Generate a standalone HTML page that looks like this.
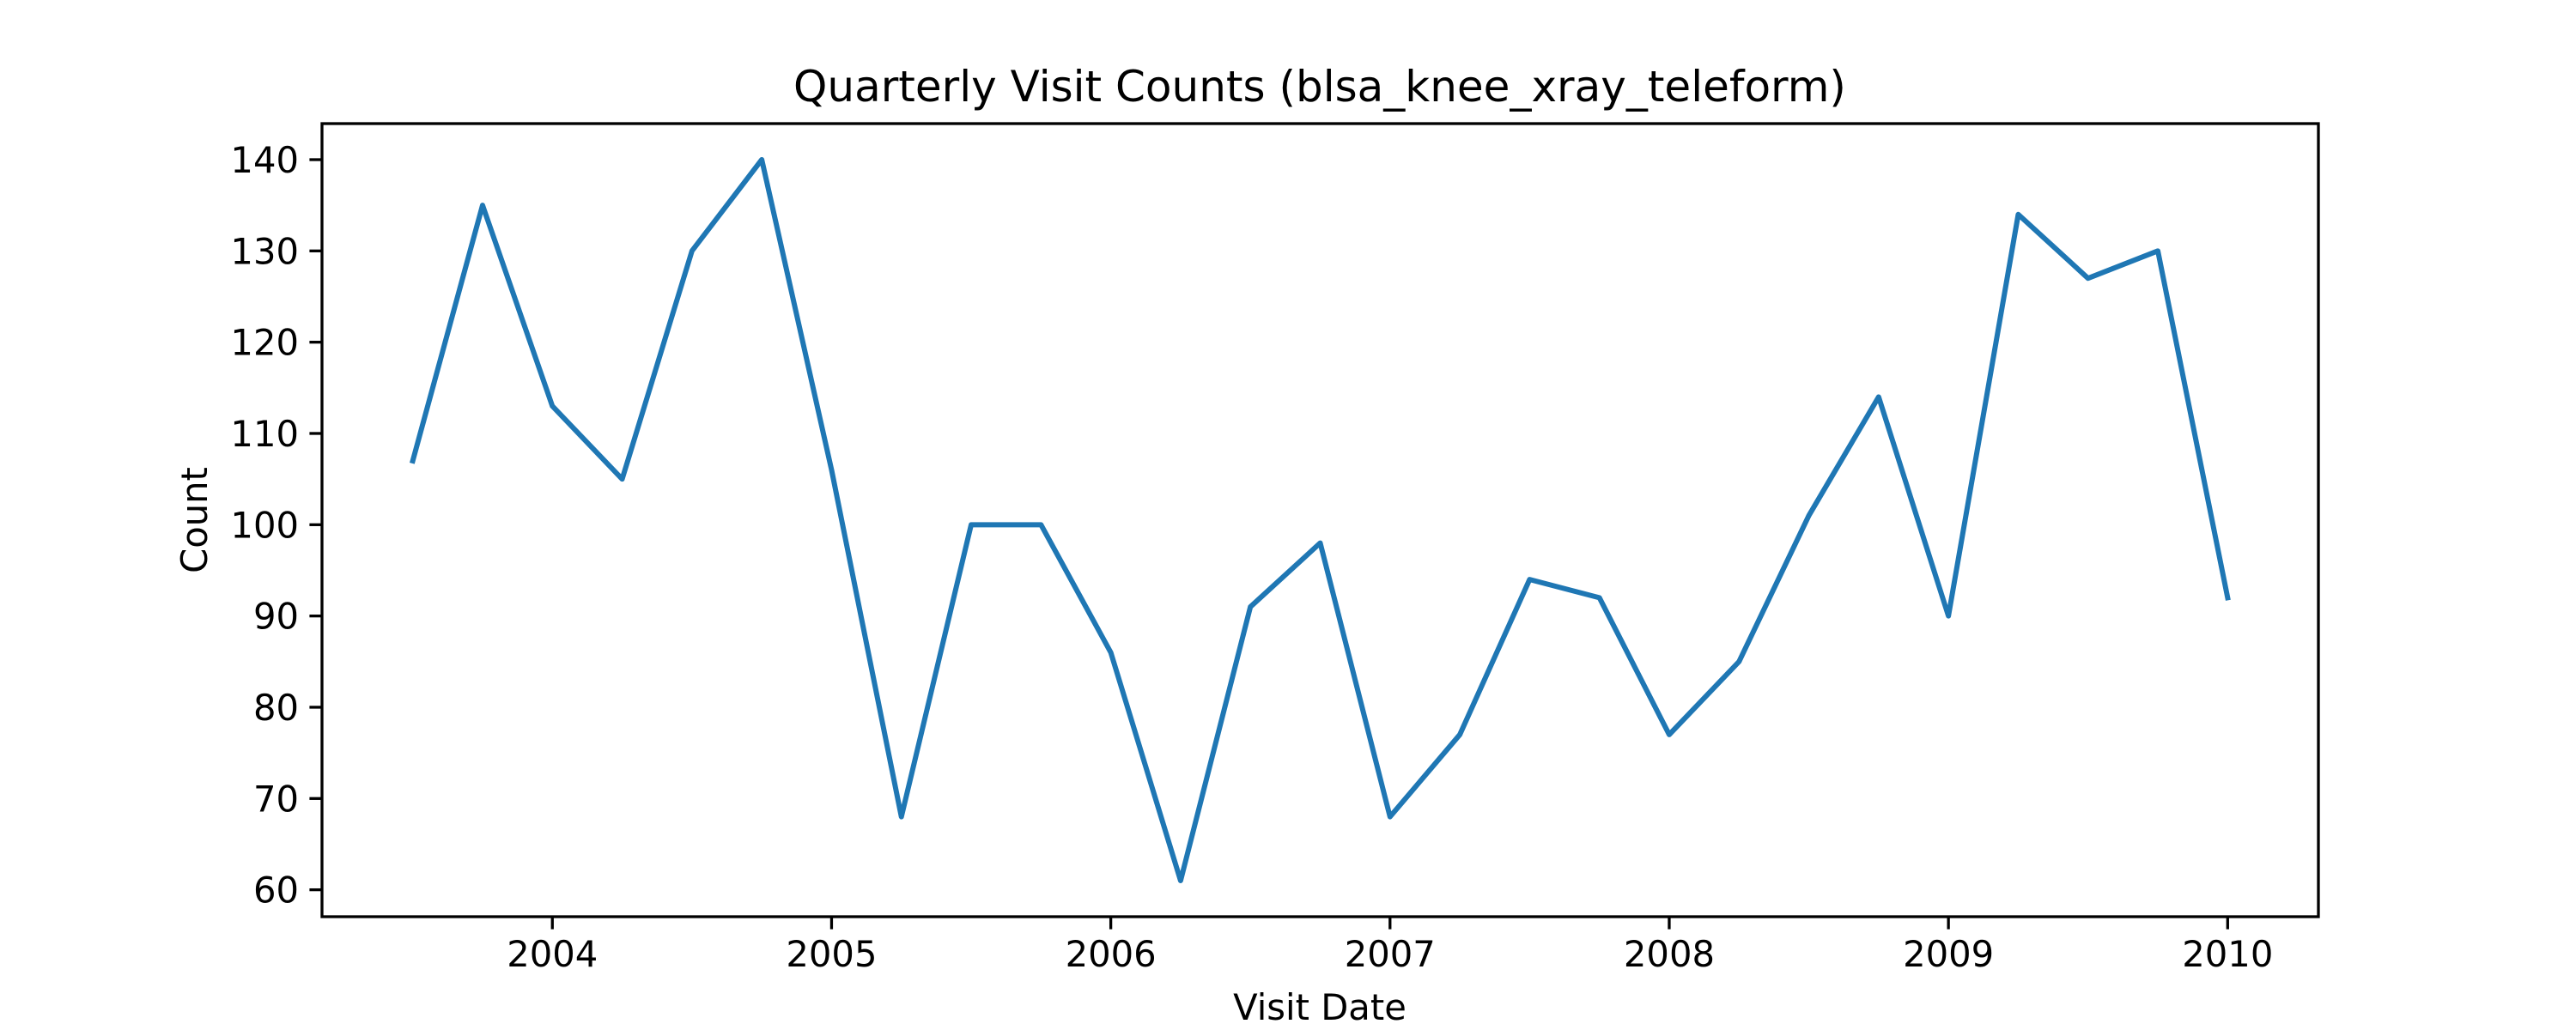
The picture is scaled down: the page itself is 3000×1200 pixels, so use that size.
<!DOCTYPE html>
<html><head><meta charset="utf-8"><style>
html,body{margin:0;padding:0;background:#fff;}
svg{display:block;font-family:"DejaVu Sans","Liberation Sans",sans-serif;}
</style></head><body>
<svg id="chart" width="3000" height="1200" viewBox="0 0 3000 1200">
<rect x="0" y="0" width="3000" height="1200" fill="#fff"/>
<text x="1537" y="118" font-size="50" text-anchor="middle" fill="#000">Quarterly Visit Counts (blsa_knee_xray_teleform)</text>
<g id="plot"></g>
<text x="1537" y="1188" font-size="41.7" text-anchor="middle" fill="#000">Visit Date</text>
<text x="0" y="0" font-size="41.7" text-anchor="middle" fill="#000" transform="translate(241,606) rotate(-90)">Count</text>
</svg>
<script>
const dates = [2003.5,2003.75,2004,2004.25,2004.5,2004.75,2005,2005.25,2005.5,2005.75,2006,2006.25,2006.5,2006.75,2007,2007.25,2007.5,2007.75,2008,2008.25,2008.5,2008.75,2009,2009.25,2009.5,2009.75,2010];
const counts = [107,135,113,105,130,140,106,68,100,100,86,61,91,98,68,77,94,92,77,85,101,114,90,134,127,130,92];
const xTicks = [2004,2005,2006,2007,2008,2009,2010];
const yTicks = [60,70,80,90,100,110,120,130,140];

const L=375,R=2700,T=144,B=1068;
const xmin0=Math.min(...dates),xmax0=Math.max(...dates);
const xpad=(xmax0-xmin0)*0.05, xmin=xmin0-xpad, xmax=xmax0+xpad;
const ymin0=Math.min(...counts),ymax0=Math.max(...counts);
const ypad=(ymax0-ymin0)*0.05, ymin=ymin0-ypad, ymax=ymax0+ypad;
const xs=v=>L+(v-xmin)/(xmax-xmin)*(R-L);
const ys=v=>B-(v-ymin)/(ymax-ymin)*(B-T);
const NS="http://www.w3.org/2000/svg";
const g=document.getElementById('plot');
function mk(tag,attrs){const e=document.createElementNS(NS,tag);for(const k in attrs)e.setAttribute(k,attrs[k]);g.appendChild(e);return e;}

const line=mk('polyline',{points:dates.map((d,i)=>xs(d)+','+ys(counts[i])).join(' '),fill:'none',stroke:'#1f77b4','stroke-width':6,'stroke-linejoin':'round','stroke-linecap':'square'});



const frame=mk('rect',{x:L,y:T,width:R-L,height:B-T,fill:'none',stroke:'#000','stroke-width':3.3});



xTicks.forEach(t=>{
  const x=xs(t);
  const tk=mk('line',{x1:x,x2:x,y1:B,y2:B+14.6,stroke:'#000','stroke-width':3.3});
  
  
  const lb=mk('text',{x:x,y:B+58,'font-size':41.7,'text-anchor':'middle',fill:'#000'});
  lb.textContent=t;
  
  
});
yTicks.forEach(t=>{
  const y=ys(t);
  const tk=mk('line',{x1:L-14.6,x2:L,y1:y,y2:y,stroke:'#000','stroke-width':3.3});
  
  
  const lb=mk('text',{x:L-27,y:y+15,'font-size':41.7,'text-anchor':'end',fill:'#000'});
  lb.textContent=t;
  
  
});
</script>
</body></html>
